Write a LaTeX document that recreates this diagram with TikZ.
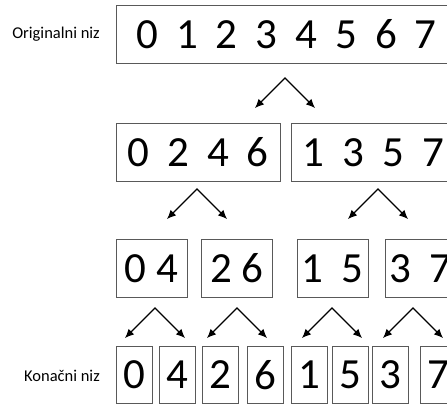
\documentclass[tikz,border=0pt]{standalone}
\usepackage{fontspec}
\setmainfont{Carlito}
\usetikzlibrary{arrows.meta}
\newcommand\bigdigits{\fontsize{43}{43}\selectfont}
\newcommand\widedigits{\fontsize{43}{43}\selectfont\setlength\spaceskip{18pt}}
\begin{document}
\begin{tikzpicture}[x=1pt,y=-1pt]
        \tikzstyle{every node}=[inner sep=0pt]
        \tikzstyle{box}=[draw=black!65, line width=0.9pt, minimum height=58pt, font=\bigdigits]
        \tikzstyle{wide}=[font=\widedigits]
        \tikzstyle{side label}=[font=\fontsize{16.5}{16.5}\selectfont, anchor=east]
        \tikzstyle{split}=[{Latex[length=9pt,width=8pt]}-{Latex[length=9pt,width=8pt]}, line width=1.1pt]
        \useasboundingbox (0,0) rectangle (447,405);
        \clip (0,0) rectangle (447,405);
        % labels
        \node[side label] (orig label) at (100,34) {Originalni niz};
        \node[side label] (final label) at (100,376) {Konačni niz};
        % level 0 and 1
        \node[box, wide, minimum width=341pt] (orig) at (286.5,34) {0 1 2 3 4 5 6 7};
        \node[box, wide, minimum width=164pt] (even) at (198,152.5) {0 2 4 6};
        \node[box, wide, minimum width=165pt] (odd) at (373.5,152.5) {1 3 5 7};
        % level 2
        \foreach \name/\x/\txt/\sty in {e04/151.5/0 4/box, e26/237/2 6/box, o15/332.5/1 5/wide, o37/420.5/3 7/wide}
                \node[box, \sty, minimum width=71pt] (\name) at (\x,268.5) {\txt};
        % level 3
        \foreach \d/\x in {0/134, 4/177.5, 2/220.5, 6/265, 1/309.5, 5/350, 3/390.5, 7/438}
                \node[box, minimum width=36pt, minimum height=57pt] (f\d) at (\x,375) {\d};
        % arrows
        \foreach \n/\x/\y in {a/285/78, b/197/189, c/378/189, d/155/308, e/237/308, f/332/308, g/413/308} {
                \coordinate (p\n) at (\x,\y);
                \coordinate (l\n) at (\x-30,\y+30);
                \coordinate (r\n) at (\x+30,\y+30);
                \draw[split] (l\n) -- (p\n) -- (r\n);
        }
\end{tikzpicture}
\end{document}
